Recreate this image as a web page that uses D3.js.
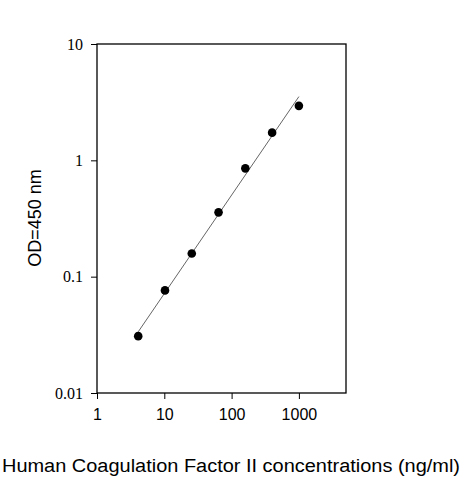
<html>
<head>
<meta charset="utf-8">
<script src="https://cdn.jsdelivr.net/npm/d3@7"></script>
<style>body{margin:0;background:#fff;}</style>
</head>
<body>
<script>
var conc = [4.096, 10.24, 25.6, 64, 160, 400, 1000]
var od = [0.0308, 0.0762, 0.158, 0.357, 0.853, 1.73, 2.94]
var fitX = [4.1, 1000]
var fitY = [0.0336, 3.53]
var xTicks = [1, 10, 100, 1000]
var yTicks = [0.01, 0.1, 1, 10]

var w = 463, h = 480
var svg = d3.select("body").append("svg").attr("width", w).attr("height", h)

var x = d3.scaleLog().domain([1, Math.pow(10, 3.7)]).range([97, 346])
var y = d3.scaleLog().domain([0.01, 10]).range([393, 44])

// frame
svg.append("rect").attr("x", 97).attr("y", 44).attr("width", 249).attr("height", 349)
   .attr("fill", "none").attr("stroke", "#000").attr("stroke-width", 1.3)

var xAxis = svg.append("g").attr("transform", "translate(0,393)")
  .call(d3.axisBottom(x).tickValues(xTicks).tickSize(6).tickFormat(d3.format("d")))
xAxis.select(".domain").remove()
xAxis.selectAll("text").attr("font-family", "Liberation Sans, Arial").attr("font-size", 16).attr("dy", "1.15em")

var yAxis = svg.append("g").attr("transform", "translate(97,0)")
  .call(d3.axisLeft(y).tickValues(yTicks).tickSize(6).tickFormat(function(d){ return String(d) }))
yAxis.select(".domain").remove()
yAxis.selectAll("text").attr("font-family", "Liberation Serif, Times New Roman").attr("font-size", 16).attr("x", -14)

svg.append("line")
  .attr("x1", x(fitX[0])).attr("y1", y(fitY[0]))
  .attr("x2", x(fitX[1])).attr("y2", y(fitY[1]))
  .attr("stroke", "#666").attr("stroke-width", 1)

svg.selectAll("circle").data(conc).enter().append("circle")
  .attr("cx", function(d){ return x(d) })
  .attr("cy", function(d, i){ return y(od[i]) })
  .attr("r", 4.3).attr("fill", "#000")

svg.append("text").attr("transform", "translate(41,218) rotate(-90)")
  .attr("text-anchor", "middle").attr("font-family", "Liberation Sans, Arial").attr("font-size", 18)
  .text("OD=450 nm")

svg.append("text").attr("x", 231).attr("y", 472)
  .attr("text-anchor", "middle").attr("font-family", "Liberation Sans, Arial").attr("font-size", 18)
  .attr("textLength", 458).attr("lengthAdjust", "spacingAndGlyphs")
  .text("Human Coagulation Factor II concentrations (ng/ml)")
</script>
</body>
</html>
